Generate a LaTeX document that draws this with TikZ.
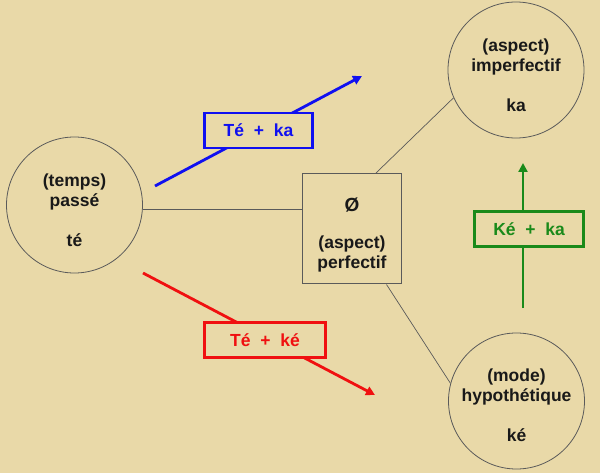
\documentclass[tikz,border=0pt]{standalone}
\usepackage{fontspec}
\setmainfont{Liberation Sans}
\usetikzlibrary{arrows.meta,calc}
\definecolor{bg}{HTML}{E9D9A8}
\definecolor{thin}{HTML}{5A5A5A}
\definecolor{myblue}{HTML}{1010F0}
\definecolor{myred}{HTML}{F01010}
\definecolor{mygreen}{HTML}{1A8A1A}
\begin{document}
\begin{tikzpicture}[x=1pt,y=-1pt,
  every node/.style={font=\bfseries\fontsize{17.5}{20}\selectfont},
  circ/.style={circle,draw=thin,line width=0.8pt,minimum size=136pt,inner sep=0pt},
  ctext/.style={align=center,text=black!90},
  centerbox/.style={rectangle,draw=thin,line width=1pt,fill=bg,minimum width=99pt,minimum height=110pt,inner sep=0pt},
  lbl/.style={rectangle,draw=#1,text=#1,line width=2.6pt,fill=bg,inner sep=0pt},
  arr/.style={line width=2.8pt,-{Triangle[length=9pt,width=9pt]}},
  conn/.style={draw=thin,line width=0.7pt}]
\fill[bg] (0,0) rectangle (600,473);
\useasboundingbox (0,0) rectangle (600,473);
% circles
\node[circ] (passe) at (74.5,205) {};
\node[ctext] (passeT) at (74.5,210) {(temps)\\passé\\[20pt]té};
\node[circ] (imperf) at (516,70) {};
\node[ctext] (imperfT) at (516,75.5) {(aspect)\\imperfectif\\[20pt]ka};
\node[circ] (hypo) at (516.5,401) {};
\node[ctext] (hypoT) at (516.5,405.5) {(mode)\\hypothétique\\[20pt]ké};
% central box
\node[centerbox] (box) at (351.5,229) {};
\node[ctext] (boxT) at (352,235) {{\fontsize{19}{20}\selectfont Ø}\\[17pt](aspect)\\perfectif};
% thin connectors
\draw[conn] (passe.-4) -- (passe.-4 -| box.west);
\draw[conn] ($(box.north west)+(74,0)$) -- (imperf.204);
\draw[conn] ($(box.south west)+(85,0)$) -- (hypo.165);
% coloured arrows
\coordinate (b1) at (155,186);
\coordinate (b2) at (362,76);
\coordinate (r1) at (143,273);
\coordinate (r2) at (375,395);
\coordinate (g1) at (523,308);
\coordinate (g2) at (523,163);
\draw[arr,myblue] (b1) -- (b2);
\draw[arr,myred] (r1) -- (r2);
\draw[arr,mygreen] (g1) -- (g2);
\node[lbl=myblue,minimum width=108pt,minimum height=35pt] (bl) at (258.5,130.5) {Té\ \ +\ \ ka};
\node[lbl=myred,minimum width=121pt,minimum height=35pt] (rl) at (265,340) {Té\ \ +\ \ ké};
\node[lbl=mygreen,minimum width=109pt,minimum height=35pt] (gl) at (529,229) {Ké\ \ +\ \ ka};
\end{tikzpicture}
\end{document}
